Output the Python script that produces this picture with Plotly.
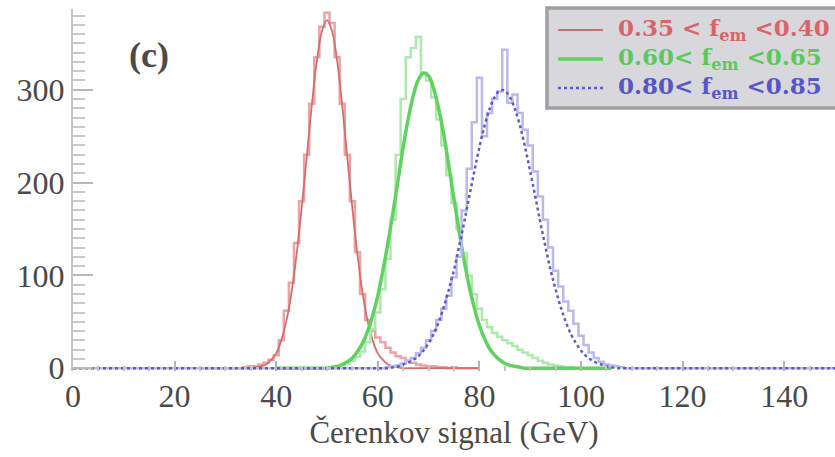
import numpy as np
import plotly.graph_objects as go

# Energy grid (GeV), 1 GeV bins across the full axis
energy = np.arange(0, 151)

# 0.35 < f_em < 0.40 : histogram counts from 34 GeV, Gaussian fit from 36 GeV
red_hist_start = 34
red_hist = [1, 2, 2, 4, 6, 9, 14, 30, 62, 92, 135, 180, 230, 285, 335, 368, 383,
            372, 335, 285, 230, 180, 125, 80, 52, 40, 33, 28, 22, 17, 13, 11, 8,
            6, 4, 3, 2, 2, 1, 1, 0, 1]
red_fit_start = 36
red_fit = [1, 2, 4, 9, 16, 30, 51, 81, 122, 172, 227, 283, 331, 363, 375, 363,
           331, 283, 227, 172, 122, 81, 51, 30, 16, 9, 4, 2, 1]

# 0.60 < f_em < 0.65
green_hist_start = 51
green_hist = [1, 2, 3, 5, 8, 12, 18, 28, 42, 60, 85, 118, 160, 230, 290, 335,
              345, 357, 318, 310, 292, 268, 240, 208, 178, 150, 124, 100, 80,
              64, 52, 44, 38, 34, 30, 27, 24, 20, 17, 14, 11, 8, 6, 4, 3, 2, 1, 1]
green_fit_start = 51
green_fit = [1, 2, 4, 7, 11, 18, 27, 40, 57, 78, 105, 135, 168, 203, 238, 269,
             294, 311, 318, 315, 301, 279, 251, 217, 182, 148, 116, 88, 65, 46,
             32, 21, 14, 9, 5, 3, 2, 1]

# 0.80 < f_em < 0.85
blue_hist_start = 62
blue_hist = [1, 2, 3, 5, 8, 11, 16, 22, 30, 40, 52, 64, 78, 98, 120, 170, 215,
             265, 313, 250, 275, 290, 298, 343, 286, 295, 275, 257, 240, 212,
             185, 160, 130, 105, 88, 72, 62, 48, 35, 25, 17, 11, 7, 4, 3, 2, 1]
blue_fit_start = 63
blue_fit = [1, 2, 4, 6, 9, 13, 19, 27, 37, 50, 66, 85, 106, 131, 157, 185, 212,
            238, 261, 279, 292, 299, 299, 292, 279, 261, 238, 212, 185, 157, 131,
            106, 85, 66, 50, 37, 27, 19, 13, 9, 6, 4, 2, 1]

legend_labels = ["0.35 < f<sub>em</sub> <0.40",
                 "0.60< f<sub>em</sub> <0.65",
                 "0.80< f<sub>em</sub> <0.85"]

# Tick layout of both axes
x_label_ticks = [0, 20, 40, 60, 80, 100, 120, 140]
y_label_ticks = [0, 100, 200, 300]
y_half_ticks = [50, 150, 250, 350]


def on_grid(start, values, lo, hi):
    """Place counts that begin at `start` GeV onto the grid lo..hi."""
    x = energy[(energy >= lo) & (energy <= hi)]
    y = np.zeros(len(x))
    for i, v in enumerate(values):
        y[start + i - lo] = v
    return x, y


SERIF = "Liberation Serif"
KEY_FONT = "DejaVu Serif"
INK = "#4a4a4a"
Y_RANGE = [-3, 387]

series = [
    # (hist, fit, hist range, hist colour, fit colour, fit width, fit dash, text colour)
    ((red_hist_start, red_hist), (red_fit_start, red_fit), (25, 80),
     "#eba3a3", "#d46e6e", 1.8, "solid", "#d8646a"),
    ((green_hist_start, green_hist), (green_fit_start, green_fit), (40, 106),
     "#ade9ad", "#5fd25f", 3.5, "solid", "#5cc85c"),
    ((blue_hist_start, blue_hist), (blue_fit_start, blue_fit), (0, 150),
     "#b9b9ec", "#5b5bc9", 2.5, "dot", "#5656c6"),
]

fig = go.Figure()
for (hs, hv), (fs, fv), (lo, hi), hcol, fcol, fw, fdash, _ in series:
    hx, hy = on_grid(hs, hv, lo, hi)
    fig.add_trace(go.Scatter(x=hx, y=hy, mode="lines", line_shape="hvh",
                             line=dict(color=hcol, width=2.5), showlegend=False,
                             hoverinfo="skip"))
    fx, fy = on_grid(fs, fv, lo, hi)
    fig.add_trace(go.Scatter(x=fx, y=fy, mode="lines", line_shape="spline",
                             line=dict(color=fcol, width=fw, dash=fdash),
                             showlegend=False))

# Boxed key in the upper right corner
shapes = [dict(type="rect", xref="paper", yref="paper", x0=0.622, x1=1.02,
               y0=0.7265, y1=1.003, fillcolor="#d8d8dc",
               line=dict(color="#a0a0a0", width=3.5), layer="above")]
annotations = []
row_y = [0.942, 0.862, 0.782]
for (_, _, _, _, fcol, fw, fdash, tcol), label, ry in zip(series, legend_labels, row_y):
    shapes.append(dict(type="line", xref="paper", yref="paper", x0=0.6365,
                       x1=0.6955, y0=ry, y1=ry, layer="above",
                       line=dict(color=fcol, width=fw, dash=fdash)))
    annotations.append(dict(xref="paper", yref="paper", x=0.713, y=ry,
                            xanchor="left", yanchor="middle", showarrow=False,
                            text="<b>" + label + "</b>",
                            font=dict(family=KEY_FONT, size=23, color=tcol)))

# Panel tag
annotations.append(dict(xref="paper", yref="paper", x=0.0997, y=0.873,
                        xanchor="center", yanchor="middle", showarrow=False,
                        text="<b>(c)</b>", font=dict(family=SERIF, size=36, color=INK)))

fig.update_layout(
    width=835, height=457,
    margin=dict(l=73, r=0, t=9, b=86),
    paper_bgcolor="white", plot_bgcolor="white",
    font=dict(family=SERIF, color=INK),
    shapes=shapes, annotations=annotations,
    showlegend=False,
    xaxis=dict(
        range=[0, 150], showgrid=False, zeroline=False, showline=False,
        tickvals=x_label_ticks, ticks="inside", ticklen=10, tickwidth=1.5,
        tickcolor="#b4b4b4", ticklabelstandoff=3,
        minor=dict(dtick=5, ticks="inside", ticklen=5, tickcolor="#c4c4c4",
                   tickwidth=1.5),
        tickfont=dict(family=SERIF, size=32, color=INK),
        title=dict(text="Čerenkov signal (GeV)", standoff=8,
                   font=dict(family=SERIF, size=31, color=INK)),
    ),
    yaxis=dict(
        range=Y_RANGE, showgrid=False, zeroline=False, showline=True,
        linecolor="#c4c4c4", linewidth=2,
        tickvals=y_label_ticks, ticks="inside", ticklen=20, tickwidth=2,
        tickcolor="#b8b8b8",
        minor=dict(dtick=10, ticks="inside", ticklen=12, tickcolor="#c8c8c8",
                   tickwidth=2),
        tickfont=dict(family=SERIF, size=32, color=INK),
    ),
    # unlabelled overlay axis carrying the long ticks half-way between labels
    yaxis2=dict(overlaying="y", side="left", anchor="x", range=Y_RANGE,
                showgrid=False, zeroline=False, showline=False,
                showticklabels=False, tickvals=y_half_ticks, ticks="inside",
                ticklen=20, tickwidth=2, tickcolor="#b8b8b8"),
)

fig.write_html("out.html")
